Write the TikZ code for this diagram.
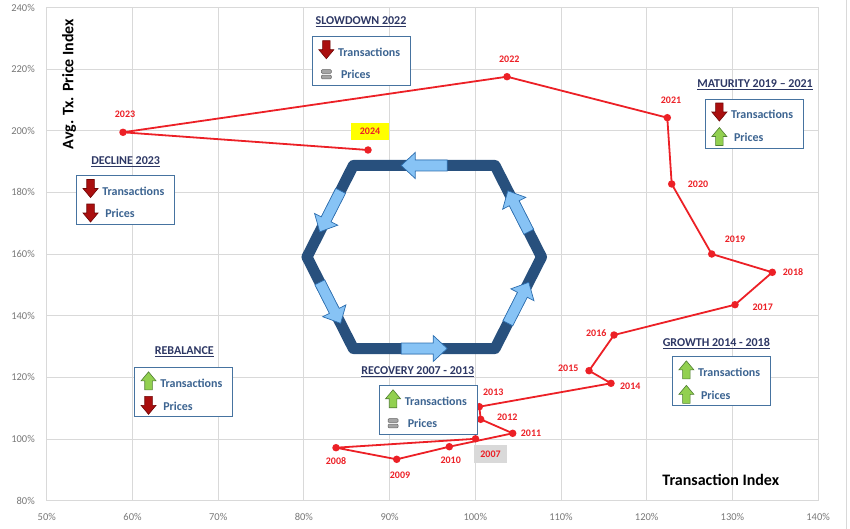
\documentclass[tikz,border=0pt]{standalone}
\usepackage{fontspec}
\setmainfont{Carlito}
\definecolor{gridc}{RGB}{217,217,217}
\definecolor{serred}{RGB}{236,32,38}
\definecolor{hexblue}{RGB}{40,80,125}
\definecolor{arrblue}{RGB}{135,195,245}
\definecolor{arrblueline}{RGB}{45,110,175}
\definecolor{boxline}{RGB}{70,115,160}
\definecolor{legtext}{RGB}{60,100,145}
\definecolor{titlec}{RGB}{45,55,100}
\definecolor{tickc}{RGB}{120,120,120}
\definecolor{arrred}{RGB}{170,15,15}
\definecolor{dkred}{RGB}{110,5,5}
\definecolor{arrgreen}{RGB}{146,208,80}
\definecolor{dkgreen}{RGB}{80,126,50}
\definecolor{eqfill}{RGB}{165,165,165}
\definecolor{eqdark}{RGB}{100,100,100}
\definecolor{hlyellow}{RGB}{255,255,0}
\definecolor{hlgrey}{RGB}{217,217,217}
\begin{document}
\begin{tikzpicture}[x=1pt,y=-1pt,
  gridline/.style={draw=gridc, line width=0.9},
  ticklab/.style={text=tickc, inner sep=0, font=\fontsize{10.5}{12}\selectfont},
  dot/.style={circle, fill=serred, inner sep=0, minimum size=7.5},
  series/.style={draw=serred, line width=1.8, line join=round},
  yearlab/.style={text=serred, inner sep=0, font=\bfseries\fontsize{10}{12}\selectfont},
  legbox/.style={draw=boxline, fill=white, line width=0.9, minimum width=98, minimum height=49, inner sep=0},
  legtxt/.style={text=legtext, anchor=west, inner sep=0, font=\bfseries\fontsize{12}{14}\selectfont},
  legtitle/.style={text=titlec, inner sep=0, font=\bfseries\fontsize{12}{14}\selectfont},
  axtitle/.style={text=black, inner sep=0, font=\bfseries\fontsize{16}{18}\selectfont},
  dnarrow/.pic={\draw[draw=dkred, fill=arrred, line width=0.6, line join=miter]
     (-3.8,-9) -- (3.8,-9) -- (3.8,0) -- (7.5,0) -- (0,9) -- (-7.5,0) -- (-3.8,0) -- cycle;},
  uparrow/.pic={\draw[draw=dkgreen, fill=arrgreen, line width=0.6, line join=miter]
     (-3.8,9) -- (3.8,9) -- (3.8,0) -- (7.5,0) -- (0,-9) -- (-7.5,0) -- (-3.8,0) -- cycle;},
  eqicon/.pic={\draw[draw=eqdark, fill=eqfill, rounded corners=1, line width=0.5] (-5,-4.6) rectangle (5,-0.8);
     \draw[draw=eqdark, fill=eqfill, rounded corners=1, line width=0.5] (-5,0.8) rectangle (5,4.6);},
  hexarr/.pic={\draw[fill=arrblue, draw=arrblueline, line width=0.7, line join=miter]
     (-23,-5.5) -- (9,-5.5) -- (9,-13) -- (23,0) -- (9,13) -- (9,5.5) -- (-23,5.5) -- cycle;}
]
\useasboundingbox (0,0) rectangle (850,529);
% chart frame line at right
\draw[gridc, line width=0.9] (846,0) -- (846,529);
% grid
\foreach \i in {0,...,9} \draw[gridline] ({46.8+\i*85.7},7.5) -- ({46.8+\i*85.7},500.6);
\foreach \j in {0,...,8} \draw[gridline] (46.8,{7.5+\j*61.64}) -- (818.1,{7.5+\j*61.64});
% tick labels
\foreach \j/\lab in {0/240,1/220,2/200,3/180,4/160,5/140,6/120,7/100,8/80}
  \node[ticklab, anchor=east] (yt\j) at (35,{7.5+\j*61.64}) {\lab\%};
\foreach \i/\lab in {0/50,1/60,2/70,3/80,4/90,5/100,6/110,7/120,8/130,9/140}
  \node[ticklab] (xt\i) at ({46.8+\i*85.7},516.5) {\lab\%};
% axis titles
\node[axtitle, rotate=90] (ytitle) at (69,84) {Avg. Tx. Price Index};
\node[axtitle] (xtitle) at (720.8,480) {Transaction Index};

% hexagon cycle
\draw[hexblue, line width=11, line join=round]
  (353.3,165.5) -- (495,165.5) -- (541.5,257) -- (495,348.5) -- (353.3,348.5) -- (307,257) -- cycle;
\pic[rotate=180] at (424.2,165.5) {hexarr};
\pic[rotate=0] at (424.2,348.5) {hexarr};
\pic[rotate=243] at (330.2,211.3) {hexarr};
\pic[rotate=297] at (330.2,302.8) {hexarr};
\pic[rotate=63] at (518.3,302.8) {hexarr};
\pic[rotate=117] at (518.3,211.3) {hexarr};

% data points
\node[dot] (p07) at (475.5,438.8) {};
\node[dot] (p08) at (336,447.7) {};
\node[dot] (p09) at (396.7,459.3) {};
\node[dot] (p10) at (449.3,446.7) {};
\node[dot] (p11) at (512.7,433.3) {};
\node[dot] (p12) at (480.7,419.3) {};
\node[dot] (p13) at (479.3,406.7) {};
\node[dot] (p14) at (611,383.3) {};
\node[dot] (p15) at (589,370.7) {};
\node[dot] (p16) at (614,335) {};
\node[dot] (p17) at (735,304.7) {};
\node[dot] (p18) at (772.3,272.3) {};
\node[dot] (p19) at (711.7,254) {};
\node[dot] (p20) at (671.7,184) {};
\node[dot] (p21) at (667.3,117.7) {};
\node[dot] (p22) at (507,76.7) {};
\node[dot] (p23) at (123,132.3) {};
\node[dot] (p24) at (368,150) {};
\draw[series] (p07.center) -- (p08.center) -- (p09.center) -- (p10.center) -- (p11.center)
  -- (p12.center) -- (p13.center) -- (p14.center) -- (p15.center) -- (p16.center)
  -- (p17.center) -- (p18.center) -- (p19.center) -- (p20.center) -- (p21.center)
  -- (p22.center) -- (p23.center) -- (p24.center);

% year labels
\node[yearlab, fill=hlgrey, minimum width=33, minimum height=18] (l07) at (490.5,454) {2007};
\node[yearlab] (l08) at (336,461.3) {2008};
\node[yearlab] (l09) at (400,475) {2009};
\node[yearlab] (l10) at (450.7,460.3) {2010};
\node[yearlab] (l11) at (531,433.3) {2011};
\node[yearlab] (l12) at (507.3,417) {2012};
\node[yearlab] (l13) at (493.3,392.3) {2013};
\node[yearlab] (l14) at (630.3,386) {2014};
\node[yearlab] (l15) at (568.3,368.3) {2015};
\node[yearlab] (l16) at (596.3,333.3) {2016};
\node[yearlab] (l17) at (762.7,307.3) {2017};
\node[yearlab] (l18) at (793,271.7) {2018};
\node[yearlab] (l19) at (735,239.7) {2019};
\node[yearlab] (l20) at (698,184) {2020};
\node[yearlab] (l21) at (671,100) {2021};
\node[yearlab] (l22) at (509.3,59.3) {2022};
\node[yearlab] (l23) at (125,114.3) {2023};
\node[yearlab, fill=hlyellow, minimum width=37.6, minimum height=17.3] (l24) at (370,131.5) {2024};

% legends
\newcommand\mklegend[4]{%
  \node[legbox] (#1) at (#2) {};
  \path (#1.north west) ++(14.5,13.5) pic {#3};
  \path (#1.north west) ++(26,16) node[legtxt] (#1a) {Transactions};
  \path (#1.north west) ++(14.5,38) pic {#4};
  \path (#1.north west) ++(29,38.5) node[legtxt] (#1b) {Prices};
}
\mklegend{bslow}{361.3,61.2}{dnarrow}{eqicon}
\mklegend{bmat}{754.3,123.5}{dnarrow}{uparrow}
\mklegend{bdecl}{125.5,200}{dnarrow}{dnarrow}
\mklegend{breb}{183.5,392.3}{uparrow}{dnarrow}
\mklegend{brec}{428,410.2}{uparrow}{eqicon}
\mklegend{bgrow}{721.3,381.3}{uparrow}{uparrow}

\node[legtitle] (tslow) at (361,22) {\underline{SLOWDOWN 2022}};
\node[legtitle] (tmat) at (755,84.7) {\underline{MATURITY 2019 – 2021}};
\node[legtitle] (tdecl) at (125.7,161.5) {\underline{DECLINE 2023}};
\node[legtitle] (treb) at (184.3,351.7) {\underline{REBALANCE}};
\node[legtitle] (trec) at (417.8,371.7) {\underline{RECOVERY 2007 - 2013}};
\node[legtitle] (tgrow) at (716.3,343.3) {\underline{GROWTH 2014 - 2018}};
\end{tikzpicture}
\end{document}
